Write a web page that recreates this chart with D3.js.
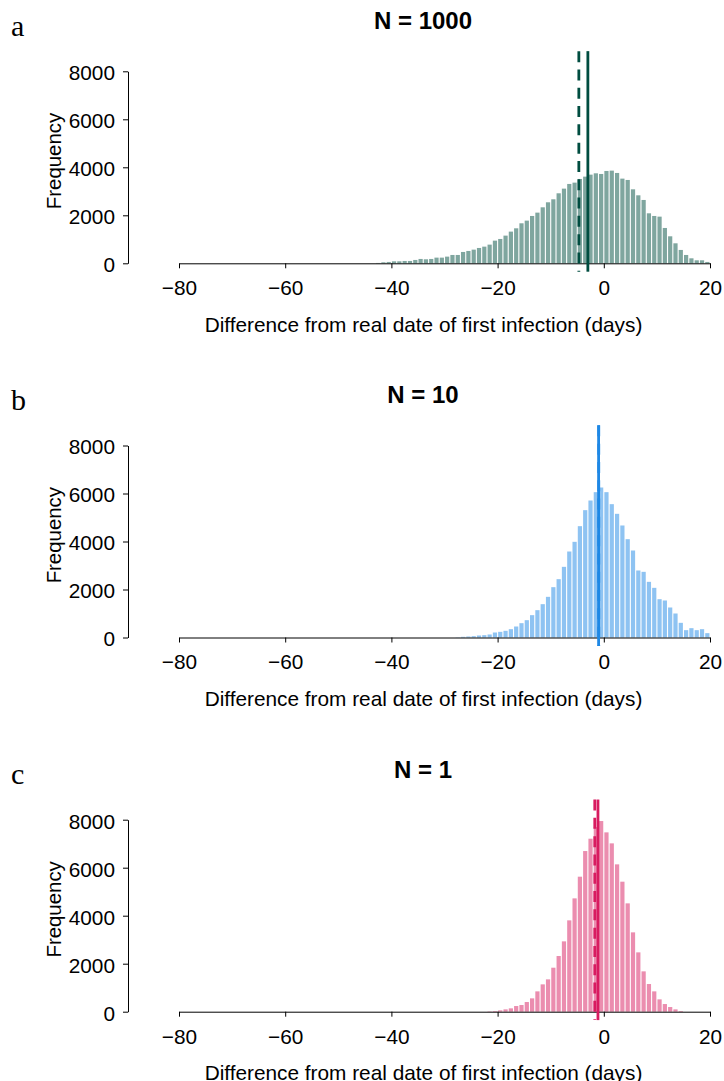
<!DOCTYPE html>
<html lang="en">
<head>
<meta charset="UTF-8">
<title>Difference from real date of first infection</title>
<style>
  body { margin: 0; background: #fff; }
  svg text { font-family: "Liberation Sans", Arial, sans-serif; fill: #000; }
  .axis path, .axis line { stroke: #000; stroke-width: 1; }
  .axis text { font-size: 20.8px; }
  .letter { font-family: "Liberation Serif", "Times New Roman", serif; font-size: 30px; }
</style>
</head>
<body>
<div class="chart"></div>
<script src="https://cdn.jsdelivr.net/npm/d3@7/dist/d3.min.js"></script>
<script>
// histogram counts, one bin per day, starting at binStarts[i]
const panelLetters = ['a', 'b', 'c']
const panelTitles = ['N = 1000', 'N = 10', 'N = 1']
const binStarts = [-43, -28, -22]

const countsA = [15, 42, 56, 83, 83, 97, 97, 139, 181, 167, 181, 236, 236, 278, 347, 347,
  472, 514, 569, 639, 694, 778, 944, 1014, 1153, 1320, 1458, 1667, 1778, 1972, 2111,
  2333, 2542, 2667, 2917, 3111, 3306, 3361, 3514, 3611, 3694, 3750, 3722, 3847, 3861,
  3764, 3528, 3472, 3083, 2833, 2639, 2083, 1972, 1944, 1472, 1125, 833, 556, 347, 208,
  125, 125, 56]
const countsB = [10, 28, 42, 56, 83, 97, 125, 208, 236, 278, 347, 458, 597, 722, 931, 1139,
  1389, 1694, 2097, 2431, 2944, 3583, 3986, 4639, 5306, 5708, 6056, 6250, 6056, 5556,
  5153, 4667, 4097, 3625, 2792, 2736, 2319, 2069, 1597, 1542, 1250, 1000, 611, 306, 389,
  306, 347, 181]
const countsC = [14, 28, 56, 97, 139, 236, 278, 403, 556, 847, 1139, 1347, 1833, 2320, 2931,
  3806, 4722, 5625, 6694, 7208, 7694, 7944, 7472, 7014, 6139, 5417, 4514, 3306, 2472,
  1681, 1153, 847, 514, 319, 194, 97, 28]

const solidLines = [-3.0, -0.98, -1.1]
const dashedLines = [-4.7, -0.95, -1.7]
const lineColors = ['#004d40', '#1e88e5', '#d81b60']

const xTicks = [-80, -60, -40, -20, 0, 20]
const yTicks = [0, 2000, 4000, 6000, 8000]

const allCounts = [countsA, countsB, countsC]

const width = 724, height = 1081
const panelStep = 374.2

const svg = d3.select('.chart')
  .append('svg')
  .attr('width', width)
  .attr('height', height)

const xScale = d3.scaleLinear()
  .domain([-80, 20])
  .range([179, 710])

allCounts.forEach((counts, i) => {
  const top = i * panelStep
  const g = svg.append('g').attr('transform', `translate(0, ${top})`)

  const yScale = d3.scaleLinear()
    .domain([0, 8000])
    .range([263.3, 71.3])

  const bins = counts.map((c, k) => ({ x0: binStarts[i] + k, x1: binStarts[i] + k + 1, count: c }))

  // bars, white gap between neighbours
  g.append('g')
    .selectAll('rect')
    .data(bins)
    .join('rect')
    .attr('x', d => xScale(d.x0) + 0.55)
    .attr('width', d => xScale(d.x1) - xScale(d.x0) - 1.1)
    .attr('y', d => yScale(d.count))
    .attr('height', d => yScale(0) - yScale(d.count))
    .attr('fill', lineColors[i])
    .attr('fill-opacity', 0.5)

  // axes
  const xAxis = d3.axisBottom(xScale)
    .tickValues(xTicks)
    .tickSizeInner(5)
    .tickSizeOuter(0)
    .tickPadding(12)

  g.append('g')
    .attr('class', 'axis')
    .attr('transform', `translate(0, ${yScale(0)})`)
    .call(xAxis)
    .selectAll('text')
    .attr('dy', '0.72em')

  const yAxis = d3.axisLeft(yScale)
    .tickValues(yTicks)
    .tickSizeInner(5)
    .tickSizeOuter(0)
    .tickPadding(8)
    .tickFormat(d3.format('d'))

  g.append('g')
    .attr('class', 'axis')
    .attr('transform', 'translate(128, 0)')
    .call(yAxis)
    .selectAll('text')
    .attr('dy', '0.4em')

  // dashed and solid markers across the plot region
  const lineTop = yScale(8840), lineBottom = yScale(-350)

  g.append('line')
    .attr('x1', xScale(dashedLines[i]))
    .attr('x2', xScale(dashedLines[i]))
    .attr('y1', lineTop)
    .attr('y2', lineBottom)
    .attr('stroke', lineColors[i])
    .attr('stroke-width', 2.8)
    .attr('stroke-dasharray', '11,7.3')

  g.append('line')
    .attr('x1', xScale(solidLines[i]))
    .attr('x2', xScale(solidLines[i]))
    .attr('y1', lineTop)
    .attr('y2', lineBottom)
    .attr('stroke', lineColors[i])
    .attr('stroke-width', 2.8)

  // texts
  g.append('text')
    .attr('x', 423)
    .attr('y', 29.3)
    .attr('text-anchor', 'middle')
    .style('font-size', '24px')
    .style('font-weight', 'bold')
    .text(panelTitles[i])

  g.append('text')
    .attr('class', 'letter')
    .attr('x', 11)
    .attr('y', 36)
    .text(panelLetters[i])

  g.append('text')
    .attr('transform', `translate(61, 161) rotate(-90)`)
    .attr('text-anchor', 'middle')
    .style('font-size', '20.4px')
    .text('Frequency')

  g.append('text')
    .attr('x', 423.5)
    .attr('y', yScale(0) + 68.5)
    .attr('text-anchor', 'middle')
    .style('font-size', '20.8px')
    .text('Difference from real date of first infection (days)')
})
</script>
</body>
</html>
